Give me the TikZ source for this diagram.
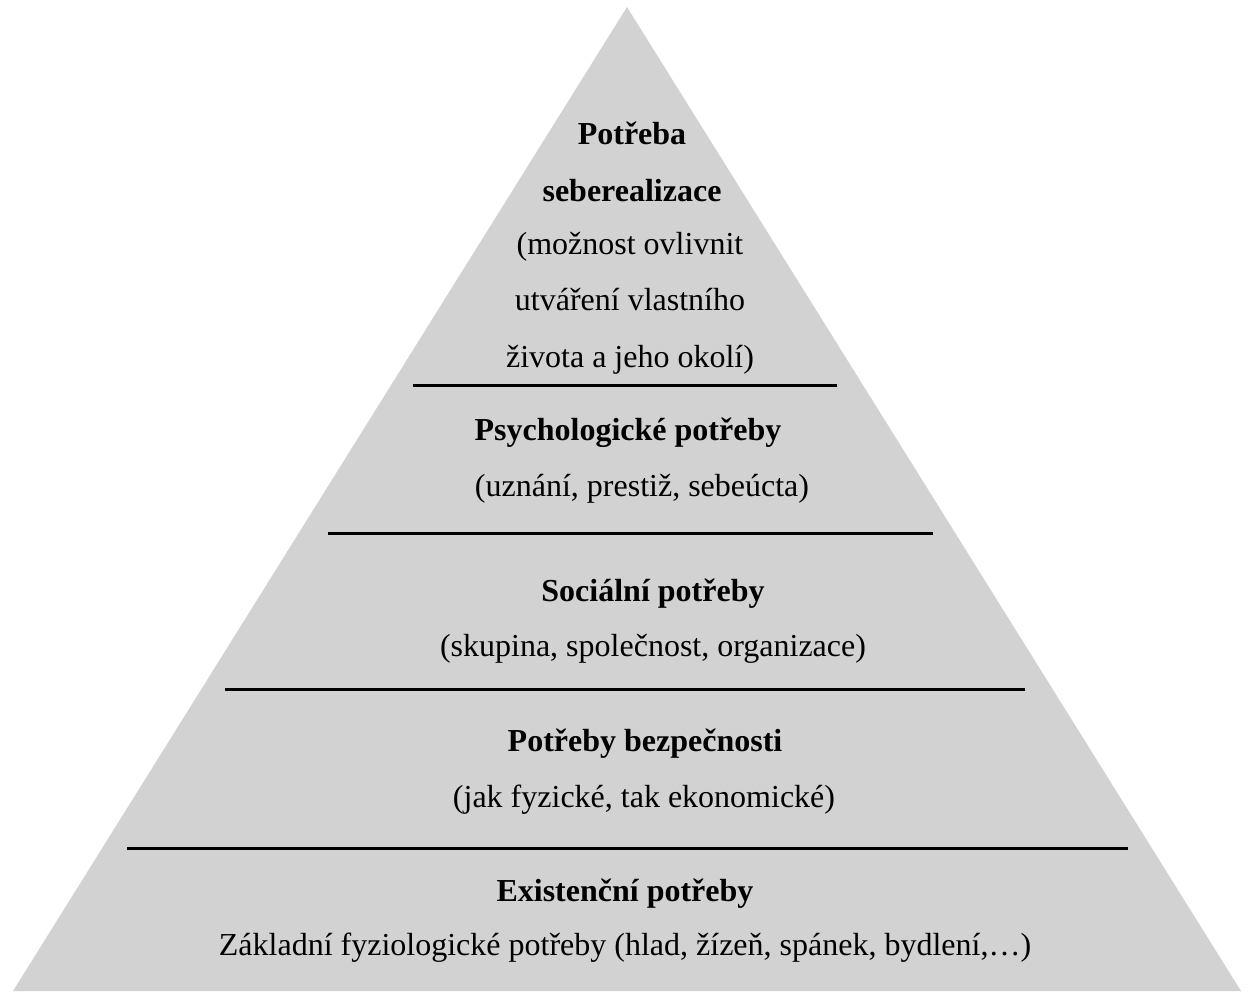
\documentclass[tikz,border=0pt]{standalone}
\usepackage{fontspec}
\setmainfont{Liberation Serif}
\usepackage{xcolor}
\usetikzlibrary{positioning}
\definecolor{pyrgray}{gray}{0.824}

\begin{document}
\begin{tikzpicture}[
  x=0.5pt, y=-0.5pt,
  title/.style={align=center, font=\fontsize{16}{28.3}\selectfont\bfseries, inner sep=0pt},
  desc/.style={align=center, font=\fontsize{16}{28.3}\selectfont, inner sep=0pt},
  tierline/.style={draw=black, line width=1.5pt}
]
\useasboundingbox (0,0) rectangle (1248,991);
% pyramid
\fill[pyrgray] (627,7) -- (1241,991) -- (13,991) -- cycle;
% tier borders
\draw[tierline] (413,385.5) -- (837,385.5);
\draw[tierline] (328,533) -- (933,533);
\draw[tierline] (225,689.5) -- (1025,689.5);
\draw[tierline] (127,848) -- (1128,848);
% texts
\node[title] (selft) at (632,162) {Potřeba\\seberealizace};
\node[desc] (selfd) at (630,303) {(možnost ovlivnit\\utváření vlastního\\života a jeho okolí)};
\node[title] (psyt) at (628,433) {Psychologické potřeby};
\node[desc] (psyd) at (642,489) {(uznání, prestiž, sebeúcta)};
\node[title] (soct) at (653,593.5) {Sociální potřeby};
\node[desc] (socd) at (653,648.5) {(skupina, společnost, organizace)};
\node[title] (bezt) at (645,744) {Potřeby bezpečnosti};
\node[desc] (bezd) at (644,800) {(jak fyzické, tak ekonomické)};
\node[title] (exit) at (625,894) {Existenční potřeby};
\node[desc] (exid) at (625,948) {Základní fyziologické potřeby (hlad, žízeň, spánek, bydlení,…)};
\end{tikzpicture}
\end{document}
